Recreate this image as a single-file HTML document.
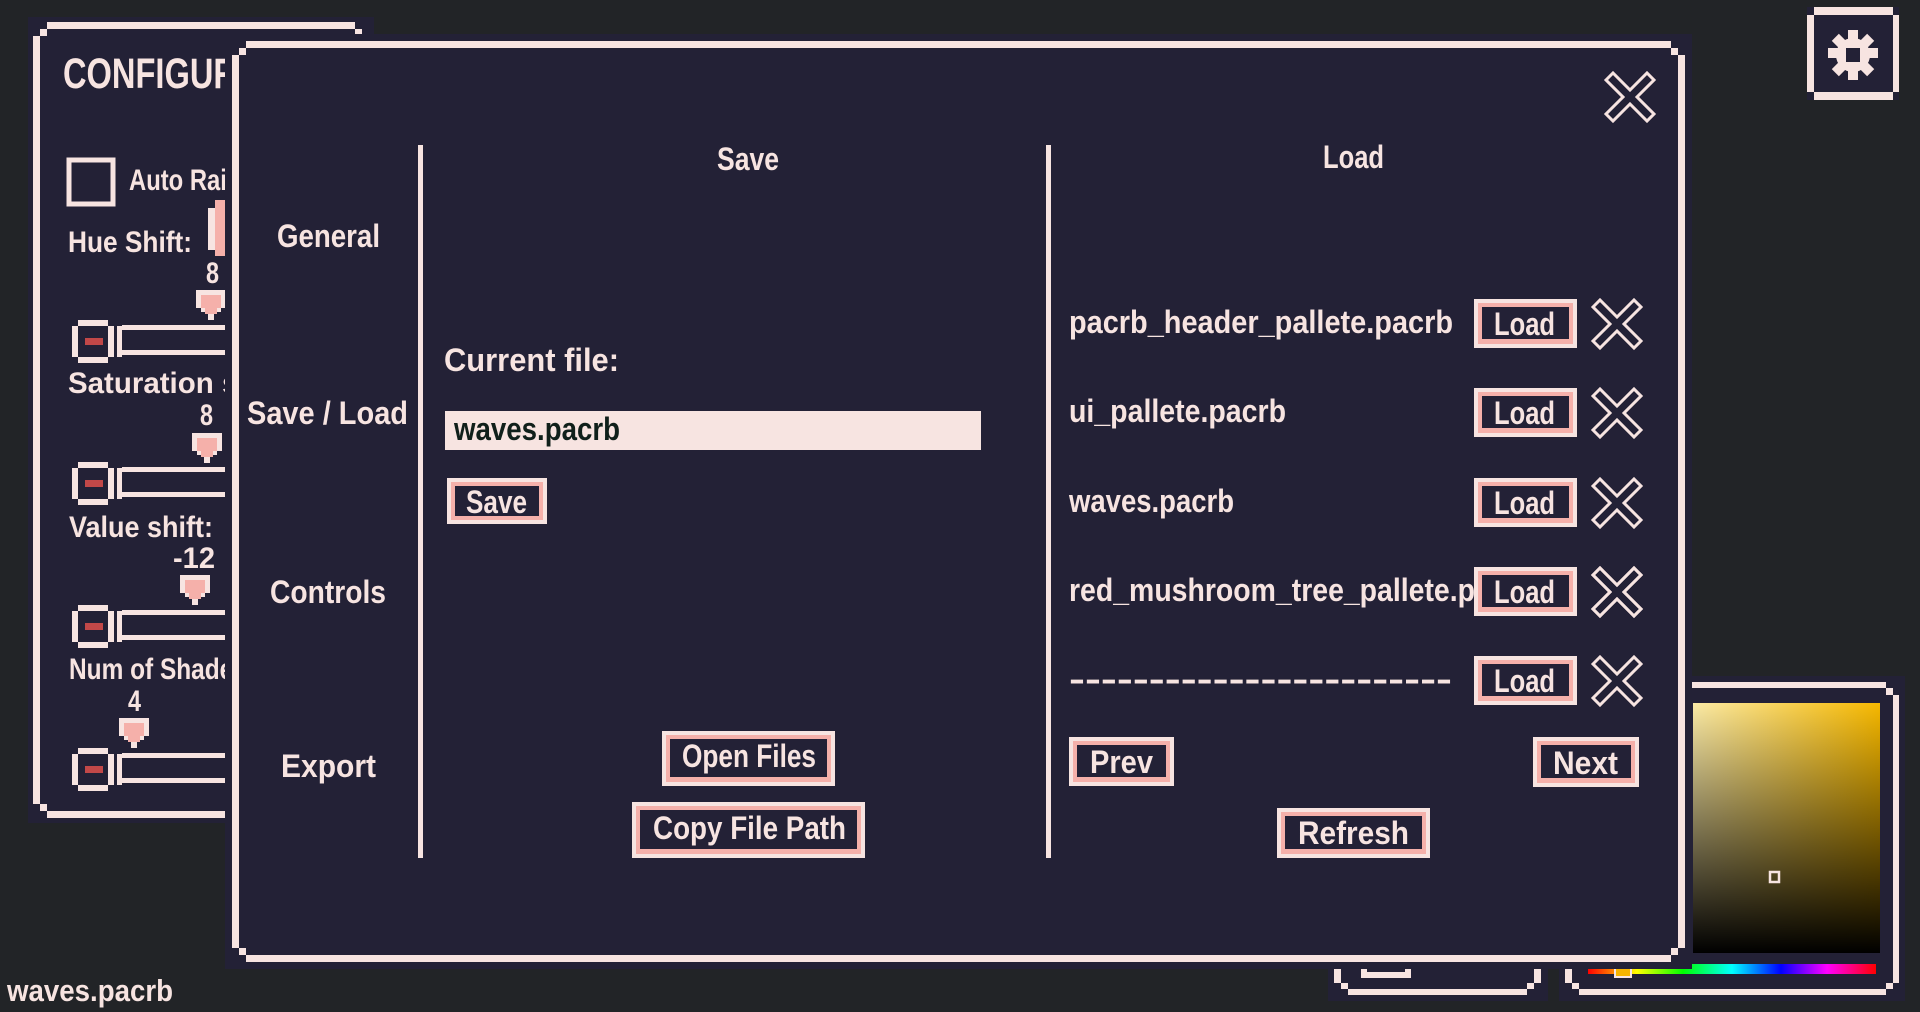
<!DOCTYPE html>
<html><head><meta charset="utf-8"><style>
html,body{margin:0;padding:0;background:#222427;}
svg{display:block}
text{font-family:"Liberation Sans",sans-serif;font-weight:bold;fill:#f7e4e1}
</style></head><body>
<svg width="1920" height="1012" viewBox="0 0 1920 1012" xmlns="http://www.w3.org/2000/svg">
<defs>
<linearGradient id="gh" x1="0" y1="0" x2="1" y2="0"><stop offset="0" stop-color="#fbeaa6"/><stop offset="1" stop-color="#f6b800"/></linearGradient>
<linearGradient id="gv" x1="0" y1="0" x2="0" y2="1"><stop offset="0" stop-color="#000" stop-opacity="0"/><stop offset="1" stop-color="#000" stop-opacity="1"/></linearGradient>
<linearGradient id="hue" x1="0" y1="0" x2="1" y2="0"><stop offset="0" stop-color="#f00"/><stop offset=".17" stop-color="#ff0"/><stop offset=".33" stop-color="#0f0"/><stop offset=".5" stop-color="#0ff"/><stop offset=".67" stop-color="#00f"/><stop offset=".83" stop-color="#f0f"/><stop offset="1" stop-color="#f00"/></linearGradient>
<g id="xi"><polygon points="0,7 7,0 24,17 41,0 48,7 31,24 48,41 41,48 24,31 7,48 0,41 17,24" fill="none" stroke="#f7e4e1" stroke-width="3"/></g>
<g id="mk"><rect x="0" y="0" width="30" height="18" fill="#f7e4e1"/><rect x="5" y="5" width="20" height="13" fill="#f5b0aa"/><rect x="9" y="18" width="12" height="6" fill="#f5b0aa"/><rect x="5" y="18" width="4" height="4" fill="#f7e4e1"/><rect x="21" y="18" width="4" height="4" fill="#f7e4e1"/><rect x="12" y="24" width="6" height="6" fill="#f7e4e1"/></g>
<g id="sl"><rect x="78" y="0" width="30" height="6" fill="#f7e4e1"/><rect x="78" y="37" width="30" height="6" fill="#f7e4e1"/><rect x="72" y="6" width="6" height="31" fill="#f7e4e1"/><rect x="108" y="6" width="6" height="31" fill="#f7e4e1"/><rect x="85" y="18" width="18" height="7" fill="#c24848"/><rect x="117" y="6" width="5" height="31" fill="#f7e4e1"/><rect x="122" y="5" width="110" height="5" fill="#f7e4e1"/><rect x="122" y="30" width="110" height="5" fill="#f7e4e1"/></g>
</defs>
<rect width="1920" height="1012" fill="#222427"/>

<!-- config panel -->
<rect x="28" y="17" width="346" height="806" fill="#232136"/>
<g fill="#f7e4e1">
<rect x="47" y="22" width="308" height="7"/><rect x="47" y="811" width="308" height="7"/>
<rect x="33" y="36" width="7" height="768"/><rect x="362" y="36" width="7" height="768"/>
<rect x="40" y="29" width="7" height="7"/><rect x="355" y="29" width="7" height="7"/>
<rect x="40" y="804" width="7" height="7"/><rect x="355" y="804" width="7" height="7"/>
</g>
<text x="63" y="88" font-size="43" textLength="273" lengthAdjust="spacingAndGlyphs">CONFIGURATION</text>
<rect x="69" y="160" width="44" height="44" fill="none" stroke="#f7e4e1" stroke-width="5"/>
<text x="129" y="190" font-size="30" textLength="160" lengthAdjust="spacingAndGlyphs">Auto Rainbow</text>
<text x="68" y="252" font-size="30" textLength="124" lengthAdjust="spacingAndGlyphs">Hue Shift:</text>
<rect x="208" y="208" width="7" height="42" fill="#f7e4e1"/><rect x="215" y="200" width="12" height="56" fill="#f5b0aa"/>
<text x="206" y="283" font-size="30" textLength="13" lengthAdjust="spacingAndGlyphs">8</text>
<use href="#mk" x="196" y="290"/>
<use href="#sl" x="0" y="320"/>
<text x="68" y="393" font-size="30" textLength="226" lengthAdjust="spacingAndGlyphs">Saturation shift:</text>
<text x="200" y="425" font-size="30" textLength="13" lengthAdjust="spacingAndGlyphs">8</text>
<use href="#mk" x="192" y="433"/>
<use href="#sl" x="0" y="462"/>
<text x="69" y="537" font-size="30" textLength="144" lengthAdjust="spacingAndGlyphs">Value shift:</text>
<text x="173" y="568" font-size="30" textLength="42" lengthAdjust="spacingAndGlyphs">-12</text>
<use href="#mk" x="180" y="575"/>
<use href="#sl" x="0" y="605"/>
<text x="69" y="679" font-size="30" textLength="186" lengthAdjust="spacingAndGlyphs">Num of Shades:</text>
<text x="128" y="711" font-size="30" textLength="13" lengthAdjust="spacingAndGlyphs">4</text>
<use href="#mk" x="119" y="718"/>
<use href="#sl" x="0" y="748"/>

<!-- bottom small panel -->
<rect x="1328" y="955" width="220" height="46" fill="#232136"/>
<g fill="#f7e4e1">
<rect x="1334" y="965" width="7" height="18"/><rect x="1534" y="965" width="7" height="18"/>
<rect x="1341" y="983" width="7" height="6"/><rect x="1527" y="983" width="7" height="6"/>
<rect x="1348" y="989" width="179" height="6"/>
<rect x="1361" y="965" width="6" height="13"/><rect x="1405" y="965" width="6" height="13"/><rect x="1361" y="972" width="50" height="6"/>
</g>

<!-- color panel -->
<rect x="1559" y="676" width="346" height="325" fill="#232136"/>
<g fill="#f7e4e1">
<rect x="1579" y="682" width="307" height="6"/><rect x="1579" y="989" width="307" height="6"/>
<rect x="1565" y="695" width="7" height="288"/><rect x="1893" y="695" width="6" height="288"/>
<rect x="1886" y="688" width="7" height="7"/><rect x="1886" y="983" width="7" height="6"/>
<rect x="1572" y="983" width="7" height="6"/><rect x="1572" y="688" width="7" height="7"/>
</g>
<rect x="1693" y="703" width="187" height="250" fill="url(#gh)"/>
<rect x="1693" y="703" width="187" height="250" fill="url(#gv)"/>
<rect x="1770" y="872" width="9" height="10" fill="none" stroke="#f7e4e1" stroke-width="2.5"/>
<rect x="1588" y="964" width="288" height="10" fill="url(#hue)"/>
<rect x="1615" y="961" width="16" height="16" fill="#f6b400" stroke="#f7e4e1" stroke-width="2"/>

<!-- main dialog -->
<rect x="225" y="34" width="1467" height="935" fill="#232136"/>
<g fill="#f7e4e1">
<rect x="246" y="41" width="1425" height="7"/><rect x="246" y="955" width="1425" height="7"/>
<rect x="232" y="55" width="7" height="893"/><rect x="1678" y="55" width="7" height="893"/>
<rect x="239" y="48" width="7" height="7"/><rect x="1671" y="48" width="7" height="7"/>
<rect x="239" y="948" width="7" height="7"/><rect x="1671" y="948" width="7" height="7"/>
<rect x="418" y="145" width="5" height="713"/>
<rect x="1046" y="145" width="5" height="713"/>
</g>
<use href="#xi" x="1606" y="73"/>

<text x="277" y="247" font-size="32" textLength="103" lengthAdjust="spacingAndGlyphs">General</text>
<text x="247" y="424" font-size="32" textLength="161" lengthAdjust="spacingAndGlyphs">Save / Load</text>
<text x="270" y="603" font-size="32" textLength="116" lengthAdjust="spacingAndGlyphs">Controls</text>
<text x="281" y="777" font-size="32" textLength="95" lengthAdjust="spacingAndGlyphs">Export</text>

<text x="717" y="170" font-size="32" textLength="62" lengthAdjust="spacingAndGlyphs">Save</text>
<text x="1323" y="168" font-size="32" textLength="61" lengthAdjust="spacingAndGlyphs">Load</text>
<text x="444" y="371" font-size="32" textLength="175" lengthAdjust="spacingAndGlyphs">Current file:</text>
<rect x="445" y="411" width="536" height="39" fill="#f7e4e1"/>
<text x="454" y="440" font-size="32" textLength="166" lengthAdjust="spacingAndGlyphs" style="fill:#10201b">waves.pacrb</text>

<!-- buttons -->
<g>
<rect x="447" y="478" width="100" height="46" fill="#f7e4e1"/><rect x="451" y="482" width="92" height="38" fill="#f5b0aa"/><rect x="455" y="486" width="84" height="30" fill="#232136"/>
<text x="466" y="513" font-size="32" textLength="61" lengthAdjust="spacingAndGlyphs">Save</text>
<rect x="662" y="731" width="173" height="55" fill="#f7e4e1"/><rect x="666" y="735" width="165" height="47" fill="#f5b0aa"/><rect x="670" y="739" width="157" height="38" fill="#232136"/>
<text x="682" y="767" font-size="32" textLength="134" lengthAdjust="spacingAndGlyphs">Open Files</text>
<rect x="632" y="802" width="233" height="56" fill="#f7e4e1"/><rect x="636" y="806" width="225" height="48" fill="#f5b0aa"/><rect x="640" y="810" width="217" height="39" fill="#232136"/>
<text x="653" y="839" font-size="32" textLength="193" lengthAdjust="spacingAndGlyphs">Copy File Path</text>
</g>

<!-- load rows -->
<g id="row">
<rect x="1474" y="299" width="103" height="49" fill="#f7e4e1"/><rect x="1478" y="303" width="95" height="41" fill="#f5b0aa"/><rect x="1482" y="307" width="87" height="32" fill="#232136"/>
<text x="1494" y="335" font-size="32" textLength="61" lengthAdjust="spacingAndGlyphs">Load</text>
<use href="#xi" x="1593" y="300"/>
</g>
<use href="#row" y="89"/><use href="#row" y="179"/><use href="#row" y="268"/><use href="#row" y="357"/>
<text x="1069" y="333" font-size="32" textLength="384" lengthAdjust="spacingAndGlyphs">pacrb_header_pallete.pacrb</text>
<text x="1069" y="422" font-size="32" textLength="217" lengthAdjust="spacingAndGlyphs">ui_pallete.pacrb</text>
<text x="1069" y="512" font-size="32" textLength="165" lengthAdjust="spacingAndGlyphs">waves.pacrb</text>
<text x="1069" y="601" font-size="32" textLength="406" lengthAdjust="spacingAndGlyphs">red_mushroom_tree_pallete.p</text>
<text x="1069" y="690" font-size="32" textLength="383" lengthAdjust="spacingAndGlyphs">------------------------</text>
<use href="#row" y="268"/>

<rect x="1069" y="737" width="105" height="49" fill="#f7e4e1"/><rect x="1073" y="741" width="97" height="41" fill="#f5b0aa"/><rect x="1077" y="745" width="89" height="32" fill="#232136"/>
<text x="1090" y="773" font-size="32" textLength="63" lengthAdjust="spacingAndGlyphs">Prev</text>
<rect x="1533" y="737" width="106" height="50" fill="#f7e4e1"/><rect x="1537" y="741" width="98" height="42" fill="#f5b0aa"/><rect x="1541" y="745" width="90" height="33" fill="#232136"/>
<text x="1553" y="774" font-size="32" textLength="65" lengthAdjust="spacingAndGlyphs">Next</text>
<rect x="1277" y="808" width="153" height="50" fill="#f7e4e1"/><rect x="1281" y="812" width="145" height="42" fill="#f5b0aa"/><rect x="1285" y="816" width="137" height="33" fill="#232136"/>
<text x="1298" y="844" font-size="32" textLength="111" lengthAdjust="spacingAndGlyphs">Refresh</text>

<!-- gear button -->
<rect x="1807" y="7" width="92" height="93" fill="#232136"/>
<g fill="#f7e4e1">
<rect x="1814" y="7" width="79" height="8"/><rect x="1814" y="92" width="79" height="8"/>
<rect x="1807" y="15" width="7" height="77"/><rect x="1893" y="15" width="6" height="77"/>
<rect x="1848" y="30" width="10" height="50"/><rect x="1828" y="48" width="50" height="10"/>
<rect x="1848" y="30" width="10" height="50" transform="rotate(45 1853 55)"/>
<rect x="1848" y="30" width="10" height="50" transform="rotate(-45 1853 55)"/>
<circle cx="1853" cy="55" r="17"/>
</g>
<rect x="1846" y="48" width="14" height="14" fill="#232136"/>

<text x="7" y="1001" font-size="31" textLength="166" lengthAdjust="spacingAndGlyphs">waves.pacrb</text>
</svg>
</body></html>
